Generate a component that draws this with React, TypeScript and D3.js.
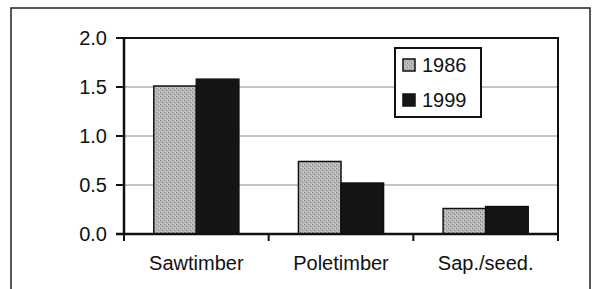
import React from 'react';
import * as d3 from 'd3';

const categories = ['Sawtimber', 'Poletimber', 'Sap./seed.'];
const years = ['1986', '1999'];
const values1986 = [1.51, 0.74, 0.26];
const values1999 = [1.58, 0.52, 0.28];
const yTicks = [0, 0.5, 1.0, 1.5, 2.0];

const W = 593, H = 289;
const margin = { top: 38, right: 35, bottom: 55, left: 124 };

const App = () => {
  const x0 = d3.scaleBand().domain(categories).range([margin.left, W - margin.right]).padding(0);
  const x1 = d3.scaleBand().domain(years).range([0, x0.bandwidth()]).paddingInner(0).paddingOuter(0.7);
  const y = d3.scaleLinear().domain([0, 2]).range([H - margin.bottom, margin.top]);

  const series = [values1986, values1999];
  const fills = ['url(#stipple)', '#151515'];
  const font = 'Arial, "Liberation Sans", sans-serif';

  const x0left = margin.left, x0right = W - margin.right;
  const bounds = categories.map(c => x0(c)).concat([x0right]);

  return (
    <svg width={W} height={H} style={{ position: 'absolute', left: 0, top: 0, background: '#fff' }}>
      <defs>
        <pattern id="stipple" width="4" height="4" patternUnits="userSpaceOnUse">
          <rect width="4" height="4" fill="#b8b8b8" />
          <rect x="0" y="0" width="1" height="1" fill="#7a7a7a" />
          <rect x="2" y="2" width="1" height="1" fill="#8a8a8a" />
          <rect x="3" y="0" width="1" height="1" fill="#d0d0d0" />
          <rect x="1" y="3" width="1" height="1" fill="#d0d0d0" />
        </pattern>
      </defs>
      {/* outer frame (open at the bottom) */}
      <path d={`M11,${H} L11,8 L590,8 L590,${H}`} fill="none" stroke="#222" strokeWidth={1.5} />

      {/* gridlines */}
      {yTicks.filter(t => t > 0 && t < 2).map(t => (
        <line key={t} x1={x0left} x2={x0right} y1={y(t)} y2={y(t)} stroke="#8a8a8a" strokeWidth={1} />
      ))}
      {/* plot area top/right border */}
      <path d={`M${x0left},${y(2)} L${x0right},${y(2)} L${x0right},${y(0)}`} fill="none" stroke="#111" strokeWidth={2} />

      {/* bars */}
      {categories.map((c, i) => (
        <g key={c}>
          {years.map((yr, j) => (
            <rect key={yr}
              x={(x0(c) as number) + (x1(yr) as number)}
              y={y(series[j][i])}
              width={x1.bandwidth()}
              height={y(0) - y(series[j][i])}
              fill={fills[j]} stroke="#111" strokeWidth={1.5} />
          ))}
        </g>
      ))}

      {/* y axis */}
      <line x1={x0left} x2={x0left} y1={y(2) - 1} y2={y(0) + 1} stroke="#111" strokeWidth={2.5} />
      {yTicks.map(t => (
        <g key={t}>
          <line x1={x0left - 8} x2={x0left} y1={y(t)} y2={y(t)} stroke="#111" strokeWidth={2} />
          <text x={x0left - 17} y={y(t)} dy="0.36em" textAnchor="end" fontFamily={font} fontSize={20} fill="#111">
            {d3.format('.1f')(t)}
          </text>
        </g>
      ))}

      {/* x axis */}
      <line x1={x0left - 8} x2={x0right} y1={y(0)} y2={y(0)} stroke="#111" strokeWidth={2.5} />
      {bounds.map((b, i) => (
        <line key={i} x1={b} x2={b} y1={y(0)} y2={y(0) + 7} stroke="#111" strokeWidth={2} />
      ))}
      {categories.map(c => (
        <text key={c} x={(x0(c) as number) + x0.bandwidth() / 2} y={270} textAnchor="middle"
          fontFamily={font} fontSize={20} fill="#111">{c}</text>
      ))}

      {/* legend */}
      <rect x={395} y={48} width={86} height={69} fill="#fff" stroke="#111" strokeWidth={2} />
      {years.map((yr, j) => (
        <g key={yr} transform={`translate(403, ${59 + j * 35})`}>
          <rect x={0} y={0} width={12} height={12} fill={fills[j]} stroke="#111" strokeWidth={1.5} />
          <text x={19} y={6} dy="0.36em" fontFamily={font} fontSize={20} fill="#111">{yr}</text>
        </g>
      ))}
    </svg>
  );
};

export default App;
